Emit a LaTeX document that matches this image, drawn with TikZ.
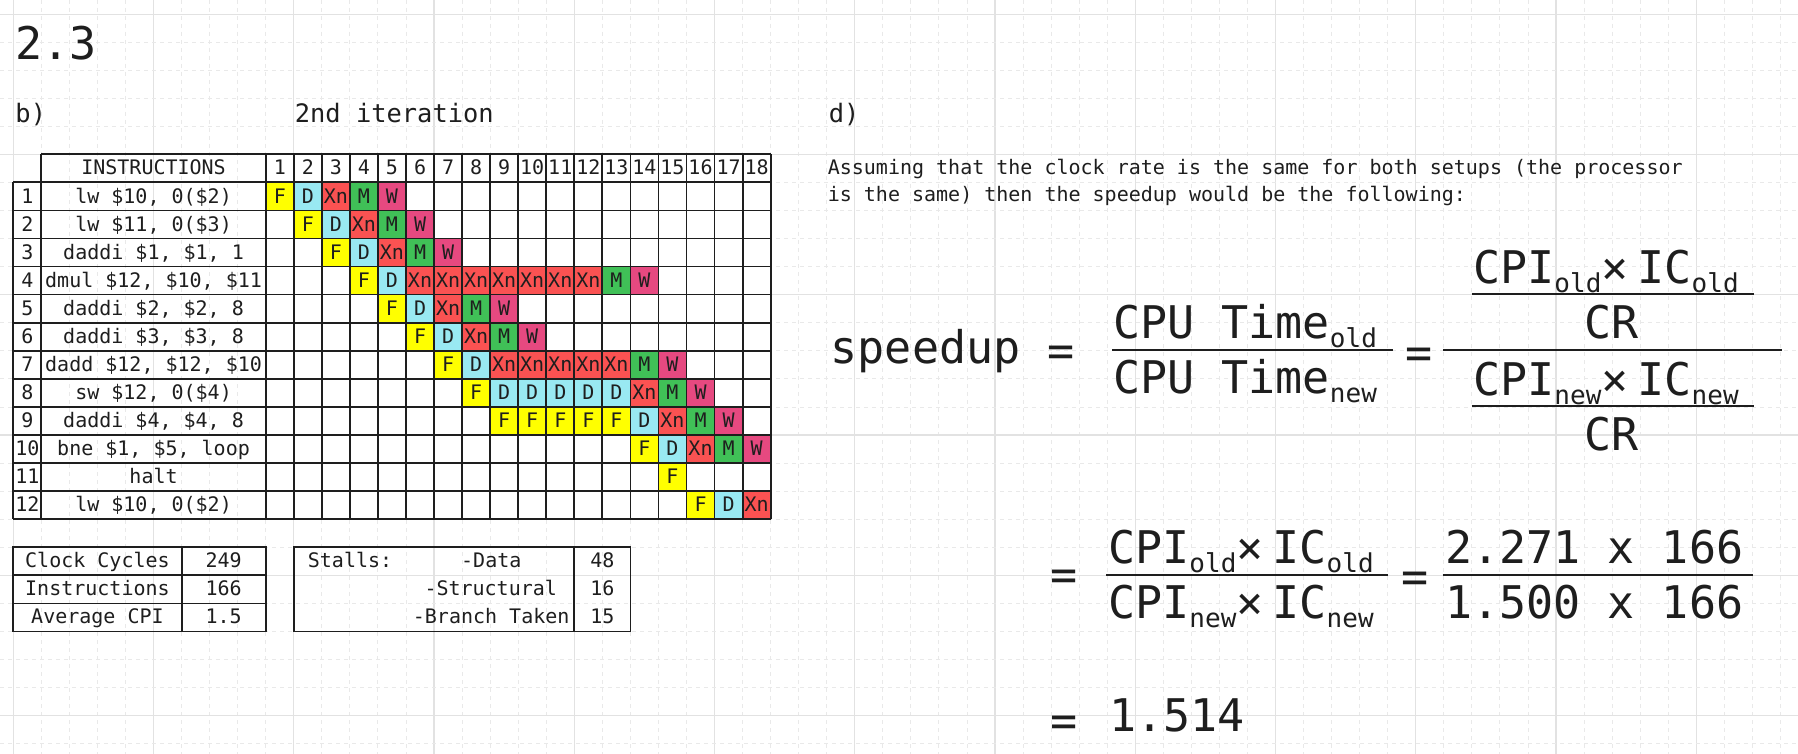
\documentclass[tikz,border=0pt]{standalone}
\usepackage{fontspec}
\setmainfont{DejaVu Sans Mono}
\newcommand\myfs[1]{\fontsize{#1}{#1}\selectfont}
\newcommand\subtxt[1]{\raisebox{-9pt}{\myfs{26}#1}}
\definecolor{ink}{HTML}{1E1E1E}
\definecolor{cF}{HTML}{FFFF00}
\definecolor{cD}{HTML}{99E9F2}
\definecolor{cX}{HTML}{FA5252}
\definecolor{cM}{HTML}{40C057}
\definecolor{cW}{HTML}{E64980}
\definecolor{gridmaj}{HTML}{E2E2E2}
\definecolor{gridmin}{HTML}{E9E9E9}
\def\labF{F}\def\labD{D}\def\labX{Xn}\def\labM{M}\def\labW{W}
\begin{document}
\begin{tikzpicture}[x=1pt,y=-1pt,
  txt/.style={inner sep=0pt,text=ink,anchor=base},
  big/.style={font={\myfs{45}}},
  mid/.style={font={\myfs{25.4}}},
  small/.style={font={\myfs{20}}},
  majgrid/.style={draw=gridmaj,line width=1.3pt},
  mingrid/.style={draw=gridmin,line width=1pt,dash pattern=on 4pt off 4pt},
  tline/.style={draw=ink,line width=1.8pt},
  bar/.style={draw=ink,line width=2.6pt},
  stF/.style={fill=cF},stD/.style={fill=cD},stX/.style={fill=cX},stM/.style={fill=cM},stW/.style={fill=cW}]
\useasboundingbox (0,0) rectangle (1798,754);
\fill[white] (0,0) rectangle (1798,754);
% background grid
\foreach \k in {0,...,63}{
  \pgfmathsetmacro\gx{13.3+28.05*\k}
  \pgfmathtruncatemacro\mm{mod(\k,5)}
  \ifnum\mm=0 \draw[majgrid] (\gx,0) -- (\gx,754); \else \draw[mingrid] (\gx,0) -- (\gx,754); \fi
}
\foreach \k in {0,...,26}{
  \pgfmathsetmacro\gy{14.3+28.05*\k}
  \pgfmathtruncatemacro\mm{mod(\k,5)}
  \ifnum\mm=0 \draw[majgrid] (0,\gy) -- (1798,\gy); \else \draw[mingrid] (0,\gy) -- (1798,\gy); \fi
}
% titles
\node[txt,anchor=base west,big] (title) at (15.3,59.3) {2.3};
\node[txt,anchor=base west,mid] (lblb) at (15.3,122.7) {b)};
\node[txt,anchor=base west,mid] (iter) at (294.7,122.7) {2nd iteration};
\node[txt,anchor=base west,mid] (lbld) at (828.7,122.7) {d)};
\node[txt,anchor=base west,small] (para1) at (827.6,175) {Assuming that the clock rate is the same for both setups (the processor};
\node[txt,anchor=base west,small] (para2) at (827.6,201.7) {is the same) then the speedup would be the following:};
% pipeline cells
\foreach \r/\s/\st in {1/1/{F,D,X,M,W},2/2/{F,D,X,M,W},3/3/{F,D,X,M,W},4/4/{F,D,X,X,X,X,X,X,X,M,W},5/5/{F,D,X,M,W},6/6/{F,D,X,M,W},7/7/{F,D,X,X,X,X,X,M,W},8/8/{F,D,D,D,D,D,X,M,W},9/9/{F,F,F,F,F,D,X,M,W},10/14/{F,D,X,M,W},11/15/{F},12/16/{F,D,X}}{
  \foreach \t [count=\i from 0] in \st {
    \pgfmathsetmacro\cx{265.75+28.05*(\s+\i-1)}
    \pgfmathsetmacro\cy{154.3+28.05*\r}
    \pgfmathtruncatemacro\cc{\s+\i}
    \fill[st\t] (\cx,\cy) rectangle ++(28.05,28.05);
    \node[txt,small] (p\r-\cc) at (\cx+14.025,\cy+20.7) {\csname lab\t\endcsname};
  }
}
% table lines
\draw[tline] (41.35,154.3) -- (770.65,154.3);
\foreach \k in {1,...,13}{
  \pgfmathsetmacro\ly{154.3+28.05*\k}
  \draw[tline] (13.3,\ly) -- (770.65,\ly);
}
\draw[tline] (13.3,182.35) -- (13.3,518.95);
\draw[tline] (41.35,154.3) -- (41.35,518.95);
\foreach \k in {0,...,18}{
  \pgfmathsetmacro\lx{265.75+28.05*\k}
  \draw[tline] (\lx,154.3) -- (\lx,518.95);
}
% header
\node[txt,small] (hinstr) at (153.55,175) {INSTRUCTIONS};
\foreach \k in {1,...,18}{
  \pgfmathsetmacro\hx{265.75+28.05*(\k-1)+14.025}
  \node[txt,small] (h\k) at (\hx,175) {\k};
}
% instructions
\foreach \r/\ins in {1/{lw \$10, 0(\$2)},2/{lw \$11, 0(\$3)},3/{daddi \$1, \$1, 1},4/{dmul \$12, \$10, \$11},5/{daddi \$2, \$2, 8},6/{daddi \$3, \$3, 8},7/{dadd \$12, \$12, \$10},8/{sw \$12, 0(\$4)},9/{daddi \$4, \$4, 8},10/{bne \$1, \$5, loop},11/{halt},12/{lw \$10, 0(\$2)}}{
  \pgfmathsetmacro\ry{154.3+28.05*\r+20.7}
  \node[txt,small] (num\r) at (27.325,\ry) {\r};
  \node[txt,small] (ins\r) at (153.55,\ry) {\ins};
}
% summary table A
\draw[tline] (13.3,547.3) rectangle (265.75,631.45);
\draw[tline] (13.3,575.35) -- (265.75,575.35);
\draw[tline] (13.3,603.4) -- (265.75,603.4);
\draw[tline] (181.6,547.3) -- (181.6,631.45);
\node[txt,small] (cc) at (97.45,567.6) {Clock Cycles};
\node[txt,small] (ccv) at (223.7,567.6) {249};
\node[txt,small] (ic) at (97.45,595.6) {Instructions};
\node[txt,small] (icv) at (223.7,595.6) {166};
\node[txt,small] (cpi) at (97.45,623.6) {Average CPI};
\node[txt,small] (cpiv) at (223.7,623.6) {1.5};
% stalls table B
\draw[tline] (293.8,547.3) rectangle (630.4,631.45);
\draw[tline] (574.3,547.3) -- (574.3,631.45);
\node[txt,small,anchor=base west] (stalls) at (307.7,567.6) {Stalls:};
\node[txt,small,anchor=base west] (sdata) at (461,567.6) {-Data};
\node[txt,small,anchor=base west] (sstruct) at (424.3,595.6) {-Structural};
\node[txt,small,anchor=base west] (sbranch) at (412.7,623.6) {-Branch Taken};
\node[txt,small] (sdatav) at (602.35,567.6) {48};
\node[txt,small] (sstructv) at (602.35,595.6) {16};
\node[txt,small] (sbranchv) at (602.35,623.6) {15};
% formula 1
\node[txt,big,anchor=base west] (speedup) at (830.6,363.3) {speedup};
\node[txt,big] (eq1) at (1061.5,366) {=};
\node[txt,big,anchor=base west] (tnum) at (1113,338.3) {CPU Time\subtxt{old}};
\node[txt,big,anchor=base west] (tden) at (1113,393.3) {CPU Time\subtxt{new}};
\coordinate (b1l) at (1112,350); \coordinate (b1r) at (1393,350);
\draw[bar] (b1l) -- (b1r);
\node[txt,big] (eq2) at (1419,368) {=};
\coordinate (b2l) at (1443,350); \coordinate (b2r) at (1782,350);
\draw[bar] (b2l) -- (b2r);
\node[txt,big,anchor=base west] (unum) at (1473,283.3) {CPI\subtxt{old}×\hspace{9pt}IC\subtxt{old}};
\coordinate (b3l) at (1471.5,294); \coordinate (b3r) at (1753.5,294);
\draw[bar] (b3l) -- (b3r);
\node[txt,big,anchor=base west] (ucr) at (1584,338) {CR};
\node[txt,big,anchor=base west] (lnum) at (1473,395) {CPI\subtxt{new}×\hspace{9pt}IC\subtxt{new}};
\coordinate (b4l) at (1471.5,406); \coordinate (b4r) at (1753.5,406);
\draw[bar] (b4l) -- (b4r);
\node[txt,big,anchor=base west] (lcr) at (1584,450) {CR};
% formula 2
\node[txt,big] (eq3) at (1064,590) {=};
\node[txt,big,anchor=base west] (f2num) at (1108,563.3) {CPI\subtxt{old}×\hspace{9pt}IC\subtxt{old}};
\node[txt,big,anchor=base west] (f2den) at (1108,618.3) {CPI\subtxt{new}×\hspace{9pt}IC\subtxt{new}};
\coordinate (b5l) at (1106,575); \coordinate (b5r) at (1388,575);
\draw[bar] (b5l) -- (b5r);
\node[txt,big] (eq4) at (1415,592) {=};
\node[txt,big,anchor=base west] (f3num) at (1445,563) {2.271 x 166};
\node[txt,big,anchor=base west] (f3den) at (1445,618.3) {1.500 x 166};
\coordinate (b6l) at (1442.7,575); \coordinate (b6r) at (1753,575);
\draw[bar] (b6l) -- (b6r);
% result
\node[txt,big] (eq5) at (1064,736) {=};
\node[txt,big,anchor=base west] (res) at (1109,731.7) {1.514};
\end{tikzpicture}
\end{document}
